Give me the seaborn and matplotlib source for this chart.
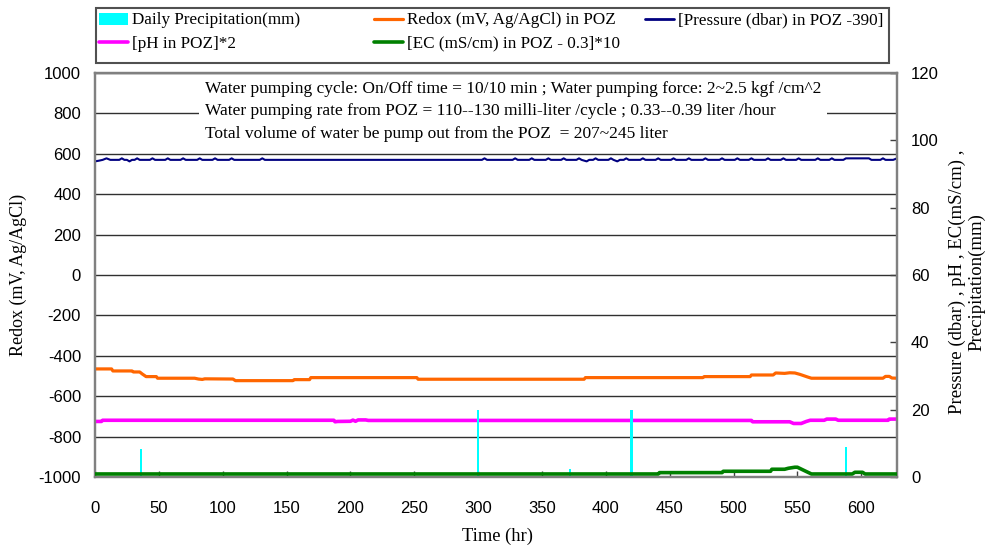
import matplotlib
matplotlib.use("Agg")
import matplotlib.pyplot as plt
import seaborn as sns
import pandas as pd
from matplotlib.patches import Patch, Rectangle
from matplotlib.lines import Line2D

# ---------------- data ----------------
precip_time = [36, 60, 300, 372, 396, 420, 588]
precip_mm = [8.2, 0.4, 20.0, 2.4, 0.4, 20.0, 8.8]

redox_time = [0, 13, 14, 29, 30, 35, 37, 40, 48, 49, 78, 81, 84, 86, 108, 110,
              155, 156, 168, 169, 252, 253, 383, 384, 476, 477, 513, 514, 531,
              533, 540, 544, 548, 552, 558, 561, 617, 619, 622, 624, 628]
redox_mv = [-465, -465, -475, -475, -480, -480, -490, -503, -503, -511, -511,
            -515, -517, -514, -515, -523, -523, -518, -518, -508, -508, -516,
            -516, -508, -508, -503, -503, -495, -495, -485, -487, -484, -485,
            -492, -505, -511, -511, -502, -502, -510, -511]

pressure_time = [0, 3, 6, 9, 12, 19, 21, 23, 25, 27, 29, 31, 33, 35, 43, 45, 47,
                 55, 57, 59, 67, 69, 71, 80, 82, 84, 92, 94, 96, 105, 107, 109,
                 129, 131, 133, 303, 305, 307, 327, 329, 331, 340, 342, 344, 353,
                 355, 357, 365, 367, 369, 377, 379, 381, 385, 387, 390, 392, 394,
                 402, 404, 406, 409, 411, 414, 416, 418, 427, 429, 431, 439, 441,
                 443, 451, 453, 455, 463, 465, 467, 476, 478, 480, 489, 491, 493,
                 501, 503, 505, 512, 514, 516, 525, 527, 529, 537, 539, 541, 549,
                 551, 553, 564, 566, 568, 575, 577, 579, 586, 588, 606, 608, 615,
                 617, 619, 625, 628]
pressure_dbar = [93.75, 93.95, 94.2, 94.65, 94.2, 94.2, 94.65, 94.2, 94.2, 93.75,
                 94.2, 94.2, 94.65, 94.2, 94.2, 94.65, 94.2, 94.2, 94.65, 94.2,
                 94.2, 94.65, 94.2, 94.2, 94.65, 94.2, 94.2, 94.65, 94.2, 94.2,
                 94.65, 94.2, 94.2, 94.65, 94.2, 94.2, 94.65, 94.2, 94.2, 94.65,
                 94.2, 94.2, 94.65, 94.2, 94.2, 94.65, 94.2, 94.2, 94.65, 94.2,
                 94.2, 94.65, 94.2, 93.75, 94.2, 94.2, 94.65, 94.2, 94.2, 94.65,
                 94.2, 93.75, 94.2, 94.2, 94.65, 94.2, 94.2, 94.65, 94.2, 94.2,
                 94.65, 94.2, 94.2, 94.65, 94.2, 94.2, 94.65, 94.2, 94.2, 94.65,
                 94.2, 94.2, 94.65, 94.2, 94.2, 94.65, 94.2, 94.2, 94.65, 94.2,
                 94.2, 94.65, 94.2, 94.2, 94.65, 94.2, 94.2, 94.65, 94.2, 94.2,
                 94.65, 94.2, 94.2, 94.65, 94.2, 94.2, 94.65, 94.65, 94.2, 94.2,
                 94.65, 94.2, 94.2, 94.65]

ph_time = [0, 5, 6, 187, 188, 190, 200, 202, 204, 206, 212, 214, 514, 515, 544,
           547, 553, 557, 560, 571, 573, 580, 582, 621, 622, 628]
ph_x2 = [16.5, 16.5, 16.85, 16.85, 16.4, 16.5, 16.55, 16.9, 16.55, 16.95, 16.95,
         16.8, 16.8, 16.4, 16.4, 15.9, 15.9, 16.5, 16.85, 16.85, 17.2, 17.2,
         16.85, 16.85, 17.2, 17.2]

ec_time = [0, 441, 442, 491, 492, 529, 530, 540, 543, 548, 550, 556, 561, 593,
           595, 601, 603, 628]
ec_x10 = [0.9, 0.9, 1.3, 1.3, 1.7, 1.7, 2.3, 2.3, 2.6, 2.9, 2.9, 1.8, 0.9, 0.9,
          1.4, 1.4, 0.9, 0.9]

left_ticks = list(range(-1000, 1001, 200))
right_ticks = list(range(0, 121, 20))
x_ticks = list(range(0, 601, 50))

legend_labels = ["Daily Precipitation(mm)", "Redox (mV, Ag/AgCl) in POZ",
                 "[Pressure (dbar) in POZ -390]", "[pH in POZ]*2",
                 "[EC (mS/cm) in POZ - 0.3]*10"]
note_lines = ["Water pumping cycle: On/Off time = 10/10 min ; Water pumping force: 2~2.5 kgf /cm^2",
              "Water pumping rate from POZ = 110--130 milli-liter /cycle ; 0.33--0.39 liter /hour",
              "Total volume of water be pump out from the POZ  = 207~245 liter"]

# ---------------- styling ----------------
sns.set_style("white")
plt.rcParams['font.family'] = ['Liberation Sans', 'DejaVu Sans']
plt.rcParams['axes.unicode_minus'] = False
plt.rcParams['text.color'] = 'black'
plt.rcParams['xtick.labelcolor'] = 'black'
plt.rcParams['ytick.labelcolor'] = 'black'
SERIF = ['Liberation Serif', 'DejaVu Serif']

C_PRECIP = '#00FFFF'
C_REDOX = '#FF6600'
C_PRESS = '#000080'
C_PH = '#FF00FF'
C_EC = '#008000'

W, H = 986, 545
fig = plt.figure(figsize=(W / 100, H / 100), dpi=100)
ax = fig.add_axes([95 / W, 1 - 477 / H, 802 / W, 404 / H])
ax2 = ax.twinx()

redox_df = pd.DataFrame({"t": redox_time, "v": redox_mv})
press_df = pd.DataFrame({"t": pressure_time, "v": pressure_dbar})
ph_df = pd.DataFrame({"t": ph_time, "v": ph_x2})
ec_df = pd.DataFrame({"t": ec_time, "v": ec_x10})

sns.lineplot(data=redox_df, x="t", y="v", ax=ax, color=C_REDOX, lw=2.3,
             estimator=None, zorder=3)
sns.lineplot(data=press_df, x="t", y="v", ax=ax2, color=C_PRESS, lw=1.5,
             estimator=None, zorder=2)
sns.lineplot(data=ph_df, x="t", y="v", ax=ax2, color=C_PH, lw=2.6,
             estimator=None, zorder=2)
ax2.bar(precip_time, precip_mm, width=2.0, color=C_PRECIP, zorder=2.5,
        linewidth=0)
sns.lineplot(data=ec_df, x="t", y="v", ax=ax2, color=C_EC, lw=2.6,
             estimator=None, zorder=3)

ax.set_xlim(0, 628)
ax.set_ylim(-1000, 1000)
ax2.set_ylim(0, 120)
ax.set_xticks(x_ticks)
ax.set_yticks(left_ticks)
ax2.set_yticks(right_ticks)
ax.set_xlabel("")
ax.set_ylabel("")
ax2.set_ylabel("")

ax.grid(axis='y', color='#303030', lw=1.0)
ax.grid(axis='x', visible=False)
ax.tick_params(axis='x', direction='in', length=4, width=1, color='#404040',
               pad=17, labelsize=12, bottom=True, labelcolor='black')
ax.tick_params(axis='y', length=0, pad=10, labelsize=12, labelcolor='black')
ax2.tick_params(axis='y', direction='in', length=5, width=1, color='#404040',
                pad=10, labelsize=12, right=True, labelcolor='black')

for a in (ax, ax2):
    for s in a.spines.values():
        s.set_color('#808080')
        s.set_linewidth(1.6)

# annotation block
ax.text(0.137, 0.981, "\n".join(note_lines), transform=ax.transAxes,
        ha='left', va='top', fontsize=12.5, family=SERIF, linespacing=1.55,
        bbox=dict(facecolor='white', edgecolor='none', pad=4), zorder=5)

# axis labels
fig.text(18 / W, 1 - 275 / H, "Redox (mV, Ag/AgCl)", rotation=90,
         ha='center', va='center', fontsize=13, family=SERIF)
fig.text(967 / W, 1 - 282 / H,
         "Pressure (dbar) , pH , EC(mS/cm) ,\nPrecipitation(mm)", rotation=90,
         ha='center', va='center', multialignment='center', linespacing=1.15,
         fontsize=13.5, family=SERIF)
fig.text(497 / W, 1 - 536 / H, "Time (hr)", ha='center', va='center',
         fontsize=13.3, family=SERIF)

# legend: three columns placed like the reference, inside one frame
h_precip = Patch(facecolor=C_PRECIP, edgecolor='none')
h_redox = Line2D([], [], color=C_REDOX, lw=2.3)
h_press = Line2D([], [], color=C_PRESS, lw=2.0)
h_ph = Line2D([], [], color=C_PH, lw=2.6)
h_ec = Line2D([], [], color=C_EC, lw=2.6)
columns = [([h_precip, h_ph], [legend_labels[0], legend_labels[3]], 99),
           ([h_redox, h_ec], [legend_labels[1], legend_labels[4]], 374),
           ([h_press], [legend_labels[2]], 645)]
for hs, ls, xpx in columns:
    fig.legend(hs, ls, loc='upper left', bbox_to_anchor=(xpx / W, 1 - 12.5 / H),
               borderaxespad=0, borderpad=0, frameon=False, handlelength=1.7,
               handletextpad=0.25, labelspacing=0.42,
               prop={'family': SERIF, 'size': 12.3})
fig.patches.append(Rectangle((96 / W, 1 - 63 / H), 793 / W, 55 / H,
                             transform=fig.transFigure, facecolor='none',
                             edgecolor='#505050', lw=1.5))

fig.savefig("out.png", dpi=100)
